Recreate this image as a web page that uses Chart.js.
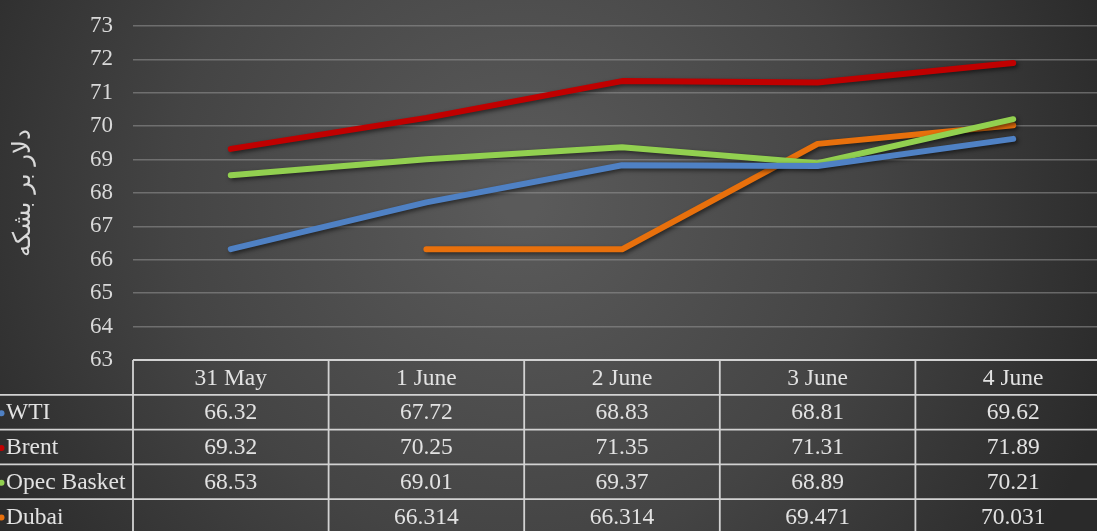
<!DOCTYPE html>
<html>
<head>
<meta charset="utf-8">
<script src="https://cdn.jsdelivr.net/npm/chart.js@4"></script>
<style>
  html, body { margin: 0; padding: 0; overflow: hidden; background: #333; }
  #wrap { width: 1111px; height: 531px; position: relative; }
</style>
</head>
<body>
<div id="wrap"><canvas id="oilChart"></canvas></div>
<script>
const days = ["31 May", "1 June", "2 June", "3 June", "4 June"];
const wti = [66.32, 67.72, 68.83, 68.81, 69.62];
const brent = [69.32, 70.25, 71.35, 71.31, 71.89];
const opec = [68.53, 69.01, 69.37, 68.89, 70.21];
const dubai = [null, 66.314, 66.314, 69.471, 70.031];
const yTitle = "دلار بر بشکه";

const serif = "'Liberation Serif', 'Times New Roman', serif";

// background gradient like the excel dark style
const bgPlugin = {
  id: "bg",
  beforeDraw(chart) {
    const c = chart.ctx;
    const w = chart.width, h = chart.height;
    c.save();
    const g = c.createRadialGradient(520, 200, 20, 520, 200, 620);
    g.addColorStop(0, "#5a5a5a");
    g.addColorStop(0.55, "#444444");
    g.addColorStop(1, "#2a2a2a");
    c.fillStyle = g;
    c.fillRect(0, 0, w, h);
    c.restore();
  }
};

const shadowPlugin = {
  id: "lineShadow",
  beforeDatasetDraw(chart) {
    const c = chart.ctx;
    c.save();
    c.shadowColor = "rgba(0,0,0,0.55)";
    c.shadowBlur = 4;
    c.shadowOffsetX = 2;
    c.shadowOffsetY = 2;
  },
  afterDatasetDraw(chart) {
    chart.ctx.restore();
  }
};

// data table under the plot
const tablePlugin = {
  id: "dataTable",
  afterDraw(chart) {
    const c = chart.ctx;
    const x = chart.scales.x;
    const area = chart.chartArea;
    const rowH = 34.8;
    const top = area.bottom;
    const colW = (area.right - area.left) / days.length;
    const rows = chart.data.datasets;
    c.save();
    c.strokeStyle = "#d2d2d2";
    c.lineWidth = 1.8;

    c.beginPath();
    c.moveTo(area.left, top);
    c.lineTo(area.right, top);
    for (let r = 1; r <= rows.length + 1; r++) {
      c.moveTo(0, top + r * rowH);
      c.lineTo(area.right, top + r * rowH);
    }
    for (let i = 0; i <= days.length; i++) {
      const xx = area.left + i * colW;
      c.moveTo(xx, top);
      c.lineTo(xx, top + (rows.length + 1) * rowH);
    }
    c.stroke();

    c.fillStyle = "#e2e2e2";
    c.font = "23.5px " + serif;
    c.textAlign = "center";
    c.textBaseline = "middle";
    days.forEach((d, i) => {
      c.fillText(d, x.getPixelForValue(i), top + rowH / 2 + 1);
    });

    rows.forEach((ds, r) => {
      const cy = top + (r + 1) * rowH + rowH / 2 + 1;
      c.fillStyle = ds.borderColor;
      c.beginPath();
      c.arc(1.5, cy, 3, 0, Math.PI * 2);
      c.fill();
      c.fillStyle = "#e2e2e2";
      c.textAlign = "left";
      c.fillText(ds.label, 6, cy);
      c.textAlign = "center";
      ds.data.forEach((v, i) => {
        if (v !== null) c.fillText(String(v), x.getPixelForValue(i), cy);
      });
    });
    c.restore();
  }
};

function line(label, data, color) {
  return {
    label: label,
    data: data,
    borderColor: color,
    backgroundColor: color,
    borderWidth: 6,
    borderCapStyle: "round",
    borderJoinStyle: "round",
    pointRadius: 0,
    pointHoverRadius: 0,
    tension: 0,
    fill: false
  };
}

const ctx = document.getElementById("oilChart").getContext("2d");
const oilChart = new Chart(ctx, {
  type: "line",
  data: {
    labels: days,
    datasets: [
      line("WTI", wti, "#4f81c4"),
      line("Brent", brent, "#c00000"),
      line("Opec Basket", opec, "#92d050"),
      line("Dubai", dubai, "#e8700c")
    ]
  },
  options: {
    responsive: true,
    maintainAspectRatio: false,
    animation: false,
    layout: { padding: { top: 26, bottom: 171, left: 0, right: 0 } },
    plugins: {
      legend: { display: false },
      tooltip: { enabled: false }
    },
    scales: {
      x: {
        type: "category",
        offset: true,
        grid: { display: false },
        border: { display: false },
        ticks: { display: false },
        afterFit(s) { s.height = 0; }
      },
      y: {
        min: 63,
        max: 73,
        ticks: {
          stepSize: 1,
          padding: 4,
          color: "#d9d9d9",
          font: { family: serif, size: 23 }
        },
        grid: {
          color: "rgba(150,150,150,0.55)",
          lineWidth: 1.5,
          drawTicks: true,
          tickLength: 16,
          tickColor: "rgba(0,0,0,0)"
        },
        border: { display: false },
        title: {
          display: true,
          text: yTitle,
          color: "#d9d9d9",
          font: { family: "'DejaVu Sans', sans-serif", size: 24.5 },
          padding: { top: 9, bottom: 0 }
        },
        afterFit(s) { s.width = 133; }
      }
    }
  },
  plugins: [bgPlugin, shadowPlugin, tablePlugin]
});
</script>
</body>
</html>
